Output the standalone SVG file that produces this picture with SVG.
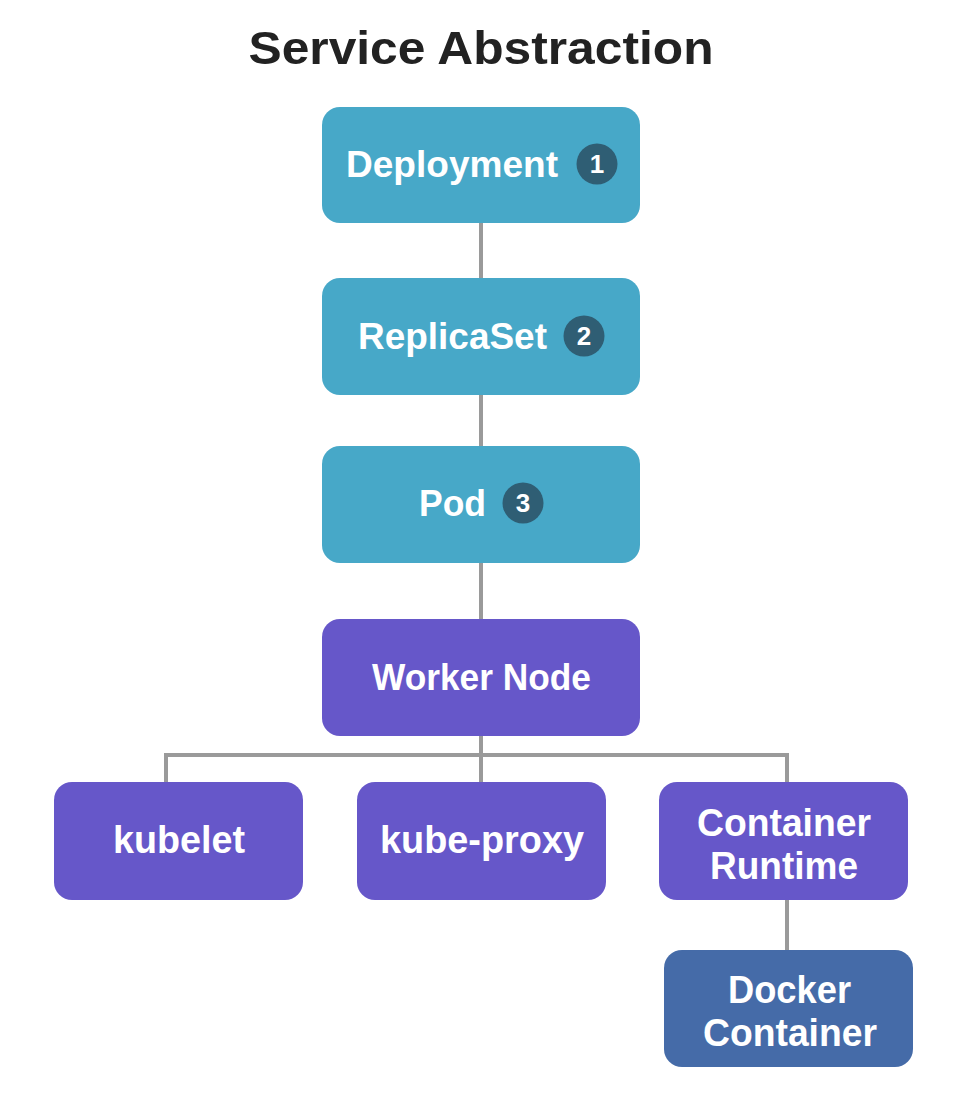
<svg xmlns="http://www.w3.org/2000/svg" width="960" height="1098" viewBox="0 0 960 1098">
<style>
.teal{fill:#47A8C8}
.purple{fill:#6657C9}
.navy{fill:#456BA8}
.badge{fill:#2F5E74}
.lbl{font-family:"Liberation Sans",Arial,sans-serif;font-weight:bold;fill:#fff;font-size:37px;text-anchor:middle}
.sm{font-size:38px}
.num{font-family:"Liberation Sans",Arial,sans-serif;font-weight:bold;fill:#fff;font-size:26px;text-anchor:middle}
.conn{stroke:#9A9A9A;stroke-width:4;fill:none}
</style>
<rect width="960" height="1098" fill="#fff"/>
<text x="481" y="64" font-family="'Liberation Sans',Arial,sans-serif" font-weight="bold" font-size="47" fill="#222" text-anchor="middle" textLength="465" lengthAdjust="spacingAndGlyphs">Service Abstraction</text>
<g id="connectors">
<path class="conn" d="M481 223V278M481 395V446M481 563V619M481 736V782M166 755H787M166 753V782M787 753V782M787 900V950"/>
</g>
<g id="deployment">
<rect class="teal" x="322" y="107" width="318" height="116" rx="18"/>
<text class="lbl" x="452" y="177" textLength="212" lengthAdjust="spacingAndGlyphs">Deployment</text>
<circle class="badge" cx="597" cy="164" r="20.5"/>
<text class="num" x="597" y="173">1</text>
</g>
<g id="replicaset">
<rect class="teal" x="322" y="278" width="318" height="117" rx="18"/>
<text class="lbl" x="452.5" y="349" textLength="189" lengthAdjust="spacingAndGlyphs">ReplicaSet</text>
<circle class="badge" cx="584" cy="336" r="20.5"/>
<text class="num" x="584" y="345">2</text>
</g>
<g id="pod">
<rect class="teal" x="322" y="446" width="318" height="117" rx="18"/>
<text class="lbl" x="452.5" y="516" textLength="67" lengthAdjust="spacingAndGlyphs">Pod</text>
<circle class="badge" cx="523" cy="503" r="20.5"/>
<text class="num" x="523" y="512">3</text>
</g>
<g id="worker-node">
<rect class="purple" x="322" y="619" width="318" height="117" rx="18"/>
<text class="lbl" x="481.5" y="690" textLength="219" lengthAdjust="spacingAndGlyphs">Worker Node</text>
</g>
<g id="kubelet">
<rect class="purple" x="54" y="782" width="249" height="118" rx="18"/>
<text class="lbl sm" x="179" y="853" textLength="132" lengthAdjust="spacingAndGlyphs">kubelet</text>
</g>
<g id="kube-proxy">
<rect class="purple" x="357" y="782" width="249" height="118" rx="18"/>
<text class="lbl sm" x="482" y="853" textLength="204" lengthAdjust="spacingAndGlyphs">kube-proxy</text>
</g>
<g id="container-runtime">
<rect class="purple" x="659" y="782" width="249" height="118" rx="18"/>
<text class="lbl sm" x="784" y="836" textLength="174" lengthAdjust="spacingAndGlyphs">Container</text>
<text class="lbl sm" x="784" y="879" textLength="148" lengthAdjust="spacingAndGlyphs">Runtime</text>
</g>
<g id="docker-container">
<rect class="navy" x="664" y="950" width="249" height="117" rx="18"/>
<text class="lbl sm" x="789.5" y="1003" textLength="123" lengthAdjust="spacingAndGlyphs">Docker</text>
<text class="lbl sm" x="790" y="1046" textLength="174" lengthAdjust="spacingAndGlyphs">Container</text>
</g>
</svg>
